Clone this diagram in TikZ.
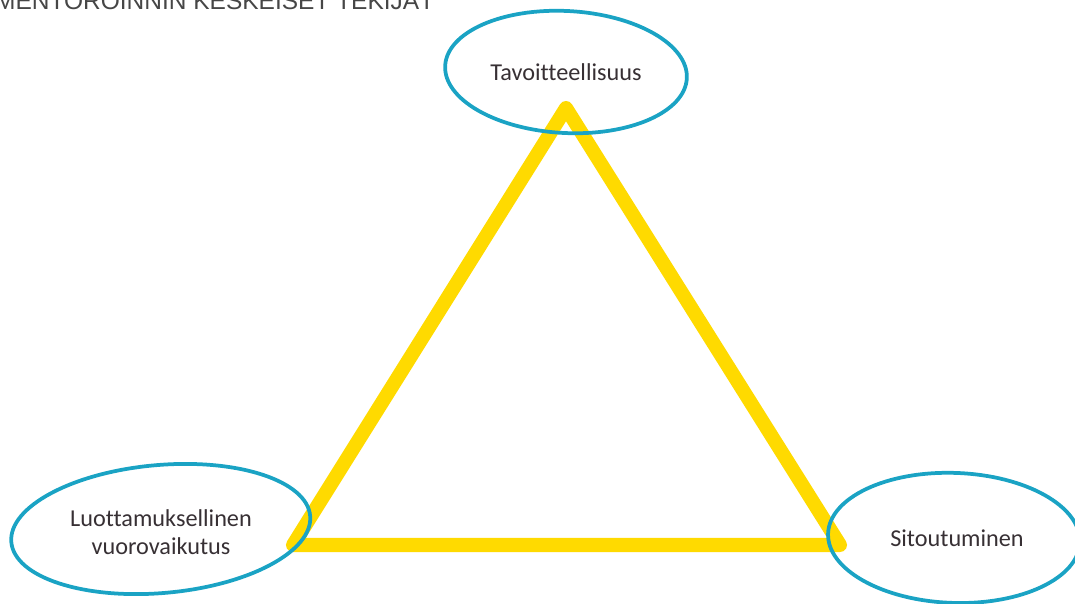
\documentclass[tikz,border=0pt]{standalone}
\usepackage{fontspec}
\setmainfont{Carlito}[Ligatures={NoCommon}]
\newfontfamily\titlefont{Liberation Sans}
\usepackage{tikz}
\usetikzlibrary{positioning, calc}
\definecolor{myyellow}{RGB}{255,218,0}
\definecolor{myblue}{RGB}{26,163,196}
\definecolor{mytext}{RGB}{55,48,52}
\definecolor{mygray}{RGB}{70,70,70}
\tikzset{
  label/.style={font=\fontsize{20.7}{24}\selectfont, color=mytext, align=center},
  ring/.style={draw=myblue, line width=3.2pt},
  edge/.style={draw=myyellow, line width=12pt, line cap=round, line join=round}
}

\begin{document}
\begin{tikzpicture}[x=0.03cm, y=-0.03cm]
  \useasboundingbox (0,0) rectangle (1075,603);

  % Title, cut at the top edge
  \node[anchor=base west, inner sep=0pt, font=\titlefont\fontsize{20.9}{25}\selectfont, color=mygray]
    (title) at (-5,9.5) {MENTOROINNIN KESKEISET TEKIJÄT};

  % Corners of the triangle
  \coordinate (apex) at (566,108);
  \coordinate (lcorner) at (293,545);
  \coordinate (rcorner) at (840,545);

  % Triangle
  \draw[edge] (apex) -- (rcorner) -- (lcorner) -- cycle;

  % Labels
  \node[label] (goal) at (566,72) {Tavoitteellisuus};
  \node[label] (trust) at (161,532) {Luottamuksellinen\\vuorovaikutus};
  \node[label] (commit) at (957,538) {Sitoutuminen};

  % Rings round the labels
  \draw[ring, rotate around={-3:(goal)}] (goal) ellipse [x radius=121, y radius=61];
  \draw[ring, rotate around={5:(trust)}] ($(trust)+(0,-3)$) ellipse [x radius=150, y radius=64];
  \draw[ring, rotate around={-2:(commit)}] ($(commit)+(-3,0)$) ellipse [x radius=126, y radius=65];
\end{tikzpicture}
\end{document}
